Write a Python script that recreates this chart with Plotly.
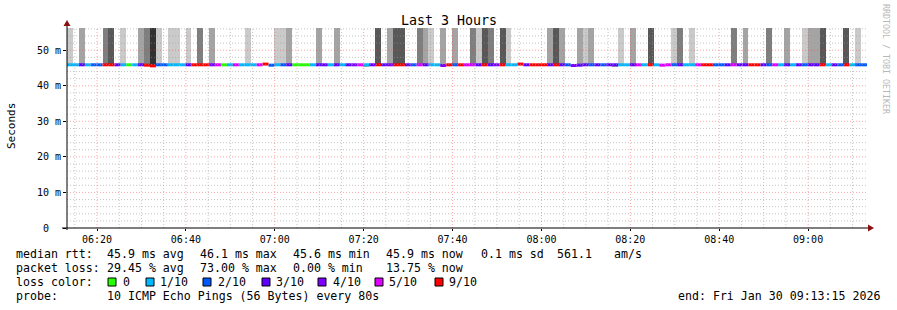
import plotly.graph_objects as go
from datetime import datetime, timedelta

# ---------------- data ----------------
END = datetime(2026, 1, 30, 9, 13, 15)
STEP_S = 80
N_SAMPLES = 135
START = END - timedelta(seconds=STEP_S * N_SAMPLES)

# median rtt per 80 s sample (ms)
median_ms = [
    45.9, 45.9, 45.9, 45.9, 45.9, 45.9, 45.9, 45.9, 45.9, 45.9, 45.9, 45.9, 45.9, 45.8, 45.6,
    45.9, 45.9, 45.9, 45.9, 45.9, 45.9, 45.9, 45.9, 45.9, 45.9, 45.9, 45.9, 45.9, 45.9, 45.9,
    45.9, 45.9, 45.9, 46.1, 45.8, 45.9, 45.9, 45.9, 45.9, 45.9, 45.9, 45.9, 45.9, 45.9, 45.9,
    45.9, 45.9, 45.9, 45.9, 45.9, 45.9, 45.9, 45.9, 45.9, 45.9, 45.9, 45.9, 45.9, 45.9, 45.9,
    45.9, 45.9, 45.9, 45.7, 45.9, 45.9, 45.9, 45.9, 45.9, 45.9, 45.9, 45.9, 45.9, 45.9, 45.9,
    45.9, 46.1, 45.9, 45.9, 45.9, 45.9, 45.9, 45.9, 45.9, 45.9, 45.7, 45.8, 45.9, 45.9, 45.9,
    45.9, 45.9, 45.9, 45.9, 45.9, 45.9, 45.9, 45.9, 45.9, 45.9, 45.8, 45.9, 45.9, 45.9, 45.9,
    45.9, 45.9, 45.9, 45.9, 45.9, 45.9, 45.9, 45.9, 45.9, 45.9, 45.9, 45.9, 45.9, 45.9, 45.9,
    45.9, 45.9, 45.9, 45.9, 45.9, 45.9, 45.9, 45.9, 45.9, 45.9, 45.9, 45.9, 45.9, 45.9, 45.9,
]

# lowest ping per sample (ms)
ping_min_ms = [
    45.9, 45.9, 45.9, 45.9, 45.9, 45.9, 45.9, 45.9, 45.9, 45.9, 45.9, 45.9, 45.9, 45.8, 45.6,
    45.9, 45.9, 45.9, 45.9, 45.9, 45.9, 45.9, 45.9, 45.9, 45.9, 45.9, 45.9, 45.9, 45.9, 45.9,
    45.9, 45.9, 45.9, 46.1, 45.8, 45.9, 45.5, 45.9, 45.9, 45.9, 45.9, 45.9, 45.9, 45.9, 45.9,
    45.9, 45.6, 45.9, 45.9, 45.9, 45.5, 45.9, 45.9, 45.9, 45.9, 45.9, 45.9, 45.9, 45.9, 45.9,
    45.9, 45.9, 45.9, 45.7, 45.9, 45.9, 45.9, 45.9, 45.9, 45.9, 45.9, 45.9, 45.9, 45.9, 45.9,
    45.9, 46.1, 45.9, 45.9, 45.9, 45.9, 45.9, 45.9, 45.9, 45.9, 45.7, 45.8, 45.9, 45.9, 45.9,
    45.9, 45.9, 45.5, 45.9, 45.9, 45.9, 45.9, 45.9, 45.9, 45.6, 45.8, 45.9, 45.9, 45.9, 45.9,
    45.9, 45.9, 45.9, 45.9, 45.9, 45.9, 45.6, 45.9, 45.9, 45.9, 45.9, 45.9, 45.9, 45.9, 45.9,
    45.9, 45.9, 45.9, 45.9, 45.9, 45.9, 45.9, 45.9, 45.9, 45.9, 45.9, 45.9, 45.9, 45.9, 45.9,
]

# lost pings (out of 10) used for the median line colour
loss_count = [
    1, 1, 3, 1, 2, 2, 9, 9, 3, 1, 0, 1, 3, 9, 9,
    2, 2, 1, 1, 1, 3, 9, 9, 9, 4, 5, 0, 1, 5, 1,
    1, 1, 5, 9, 2, 1, 2, 3, 0, 0, 0, 1, 3, 3, 1,
    3, 1, 3, 4, 5, 1, 3, 9, 3, 4, 9, 9, 3, 2, 5,
    3, 1, 1, 4, 9, 2, 9, 5, 5, 3, 9, 3, 4, 9, 1,
    1, 9, 3, 9, 9, 9, 3, 9, 3, 2, 4, 3, 3, 2, 3,
    2, 3, 3, 1, 1, 3, 5, 1, 9, 1, 5, 5, 2, 3, 1,
    1, 5, 9, 9, 2, 2, 3, 5, 3, 3, 9, 9, 3, 2, 5,
    1, 3, 1, 3, 2, 3, 3, 9, 1, 3, 2, 9, 1, 2, 2,
]

# smoke level (number of pings beyond the top of the graph)
smoke_level = [
    1, 0, 2, 0, 0, 0, 3, 4, 0, 1, 0, 0, 2, 3, 5,
    1, 0, 1, 1, 0, 1, 0, 3, 0, 2, 0, 0, 0, 0, 0,
    1, 0, 0, 0, 0, 1, 1, 2, 0, 0, 0, 0, 2, 0, 0,
    2, 0, 0, 0, 0, 0, 0, 4, 0, 2, 4, 4, 0, 0, 3,
    2, 1, 0, 2, 0, 2, 0, 0, 3, 1, 4, 3, 0, 4, 1,
    0, 0, 0, 0, 0, 0, 2, 4, 2, 0, 0, 2, 1, 2, 0,
    0, 0, 0, 1, 0, 2, 0, 0, 4, 0, 0, 0, 1, 3, 0,
    1, 0, 0, 0, 0, 0, 0, 3, 0, 2, 0, 0, 0, 3, 0,
    0, 2, 0, 0, 1, 2, 2, 4, 0, 0, 0, 4, 0, 1, 0,
]
smoke_colors = ["#ffffff", "#cacaca", "#a4a4a4", "#7e7e7e", "#585858", "#323232"]

loss_steps = [0, 1, 2, 3, 4, 5, 9]
loss_labels = ["0", "1/10", "2/10", "3/10", "4/10", "5/10", "9/10"]
loss_colors = ["#26ff00", "#00b8ff", "#0059ff", "#5e00ff", "#7e00ff", "#dd00ff", "#ff0000"]

y_tick_vals = [0, 10, 20, 30, 40, 50]
y_tick_text = ["0\u00a0\u00a0", "10 m", "20 m", "30 m", "40 m", "50 m"]
Y_MAX = 56.25

stats_rows = [
    ["median rtt:", "45.9 ms avg", "46.1 ms max", "45.6 ms min", "45.9 ms now", "0.1 ms sd", "561.1", "am/s"],
    ["packet loss:", "29.45 % avg", "73.00 % max", "0.00 % min", "13.75 % now"],
]
probe_label = "probe:"
probe_text = "10 ICMP Echo Pings (56 Bytes) every 80s"
end_text = "end: Fri Jan 30 09:13:15 2026"
title_text = "Last 3 Hours"

# ---------------- layout geometry (pixels) ----------------
W, H = 897, 310
L, T, PW, PH = 67, 28, 800, 200
FONT = "DejaVu Sans Mono, monospace"


def PX(x):
    return (x - L) / PW


def PY(y):
    return (T + PH - y) / PH


fig = go.Figure()

# smoke
sx, sbase, sy, scol = [], [], [], []
for i in range(N_SAMPLES):
    t_mid = START + timedelta(seconds=STEP_S * i + STEP_S / 2)
    lvl = smoke_level[i]
    lo = ping_min_ms[i]
    if lvl > 0:
        sx.append(t_mid); sbase.append(lo); sy.append(80 - lo); scol.append(smoke_colors[lvl])
    elif lo < median_ms[i]:
        sx.append(t_mid); sbase.append(lo); sy.append(median_ms[i] - lo); scol.append(smoke_colors[2])
fig.add_trace(go.Bar(x=sx, y=sy, base=sbase, width=STEP_S * 1000,
                     marker=dict(color=scol, line=dict(width=0)), hoverinfo="skip",
                     showlegend=False))

# median line coloured by loss
for step, col in zip(loss_steps, loss_colors):
    xs, ys = [], []
    for i in range(N_SAMPLES):
        if loss_count[i] == step:
            t0 = START + timedelta(seconds=STEP_S * i)
            t1 = t0 + timedelta(seconds=STEP_S)
            xs += [t0, t1, None]
            ys += [median_ms[i], median_ms[i], None]
    fig.add_trace(go.Scatter(x=xs, y=ys, mode="lines", line=dict(color=col, width=3),
                             showlegend=False, hoverinfo="skip", connectgaps=False))

shapes = []
MINOR = "rgba(150,150,150,0.55)"
MAJOR = "rgba(255,60,60,0.45)"
DASH = "1px,2px"
for v in range(2, 57, 2):
    col = MAJOR if v % 10 == 0 else MINOR
    shapes.append(dict(type="line", xref="paper", yref="y", x0=0, x1=1, y0=v, y1=v,
                       line=dict(color=col, width=1, dash=DASH), layer="above"))
t = datetime(2026, 1, 30, 6, 15)
while t < END:
    col = MAJOR if t.minute % 20 == 0 else MINOR
    shapes.append(dict(type="line", xref="x", yref="paper", x0=t, x1=t, y0=0, y1=1,
                       line=dict(color=col, width=1, dash=DASH), layer="above"))
    t += timedelta(minutes=5)

# axes lines and arrows
shapes.append(dict(type="line", xref="paper", yref="paper", x0=0, x1=0, y0=-0.01, y1=1.02,
                   line=dict(color="black", width=1), layer="above"))
shapes.append(dict(type="line", xref="paper", yref="paper", x0=-5 / PW, x1=1 + 3 / PW, y0=0, y1=0,
                   line=dict(color="black", width=1), layer="above"))
shapes.append(dict(type="path", xref="paper", yref="paper",
                   path=f"M {-3.5/PW},{PY(26)} L {3.5/PW},{PY(26)} L 0,{PY(20)} Z",
                   fillcolor="#8b1010", line=dict(width=0), layer="above"))
shapes.append(dict(type="path", xref="paper", yref="paper",
                   path=f"M {PX(868)},{PY(224.5)} L {PX(868)},{PY(231.5)} L {PX(874)},{PY(228)} Z",
                   fillcolor="#8b1010", line=dict(width=0), layer="above"))

annotations = []


def txt(x, y, s, size=11.6, anchor="left", color="black", angle=0):
    annotations.append(dict(x=PX(x), y=PY(y), xref="paper", yref="paper", text=s,
                            showarrow=False, xanchor=anchor, yanchor="middle",
                            borderpad=0, borderwidth=0,
                            textangle=angle, font=dict(family=FONT, size=size, color=color)))


txt(448.5, 20.5, title_text, size=13.3, anchor="center")
txt(11, 126, "Seconds", size=11, anchor="center", angle=-90)
txt(886, 59, "RRDTOOL / TOBI OETIKER", size=8.3, anchor="center", color="#b8b8b8", angle=90)

row1_x = [16, 107, 200, 293, 386, 481, 557, 614]
row2_x = [16, 107, 200, 293, 386]
row_y = [254, 268, 282, 296]
for s, x in zip(stats_rows[0], row1_x):
    txt(x, row_y[0], s)
for s, x in zip(stats_rows[1], row2_x):
    txt(x, row_y[1], s)
txt(16, row_y[2], "loss color:")
sq_x = [108, 146, 203, 262, 318, 375, 435]
lab_x = [123, 160, 218, 276, 333, 389, 449]
for lab, col, sx0, lx in zip(loss_labels, loss_colors, sq_x, lab_x):
    shapes.append(dict(type="rect", xref="paper", yref="paper",
                       x0=PX(sx0), x1=PX(sx0 + 8), y0=PY(286), y1=PY(278),
                       fillcolor=col, line=dict(color="black", width=1)))
    txt(lx, row_y[2], lab)
txt(16, row_y[3], probe_label)
txt(107, row_y[3], probe_text)
txt(880, row_y[3], end_text, anchor="right")

fig.update_layout(
    width=W, height=H,
    margin=dict(l=L, r=W - L - PW, t=T, b=H - T - PH, pad=0),
    paper_bgcolor="white", plot_bgcolor="white",
    bargap=0, barmode="overlay",
    shapes=shapes, annotations=annotations,
    showlegend=False,
    xaxis=dict(type="date", range=[START, END], showgrid=False, zeroline=False,
               showline=False, tickformat="%H:%M", tick0="2026-01-30 06:20:00",
               dtick=20 * 60 * 1000, ticks="outside", ticklen=2, tickcolor="black",
               tickfont=dict(family=FONT, size=10, color="black")),
    yaxis=dict(range=[0, Y_MAX], showgrid=False, zeroline=False, showline=False,
               tickvals=y_tick_vals, ticktext=y_tick_text, ticks="outside", ticklen=3,
               tickcolor="black", tickfont=dict(family=FONT, size=10, color="black")),
)

fig.write_html("out.html")
